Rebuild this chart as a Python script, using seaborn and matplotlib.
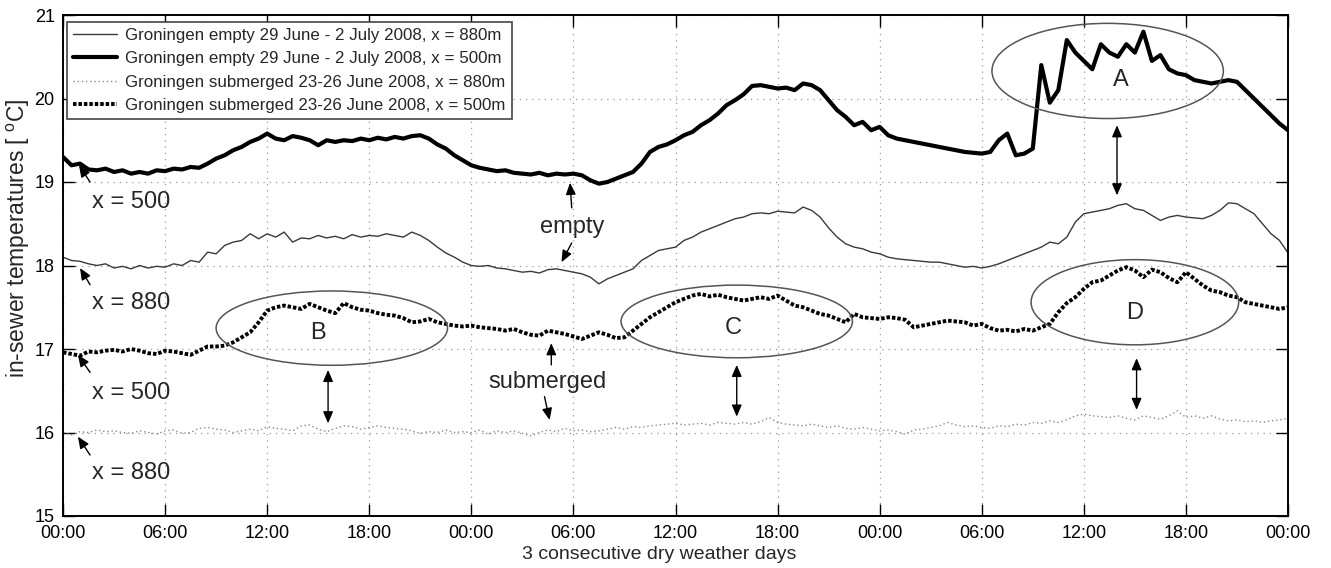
import numpy as np
import pandas as pd
import matplotlib
matplotlib.use("Agg")
import matplotlib.pyplot as plt
from matplotlib.patches import Ellipse
import seaborn as sns

# ---------------- data (hours since start, sampled every 0.5 h) ----------------
empty_500 = [
    19.30, 19.20, 19.22, 19.15, 19.14, 19.16, 19.12, 19.14, 19.10, 19.12,
    19.10, 19.14, 19.13, 19.16, 19.15, 19.18, 19.17, 19.22, 19.28, 19.32,
    19.38, 19.42, 19.48, 19.52, 19.58, 19.52, 19.50, 19.55, 19.53, 19.50,
    19.44, 19.50, 19.48, 19.50, 19.49, 19.52, 19.50, 19.53, 19.51, 19.54,
    19.52, 19.55, 19.56, 19.52, 19.45, 19.40, 19.32, 19.26, 19.20, 19.17,
    19.15, 19.13, 19.14, 19.11, 19.10, 19.09, 19.11, 19.08, 19.10, 19.09,
    19.10, 19.08, 19.02, 18.98, 19.00, 19.04, 19.08, 19.12, 19.22, 19.36,
    19.42, 19.45, 19.50, 19.56, 19.60, 19.68, 19.74, 19.82, 19.92, 19.98,
    20.05, 20.15, 20.16, 20.14, 20.12, 20.13, 20.10, 20.18, 20.16, 20.10,
    19.98, 19.86, 19.78, 19.68, 19.72, 19.62, 19.66, 19.56, 19.52, 19.50,
    19.48, 19.46, 19.44, 19.42, 19.40, 19.38, 19.36, 19.35, 19.34, 19.36,
    19.50, 19.58, 19.32, 19.34, 19.40, 20.40, 19.95, 20.10, 20.70, 20.55,
    20.45, 20.35, 20.65, 20.55, 20.50, 20.65, 20.55, 20.80, 20.45, 20.52,
    20.35, 20.30, 20.28, 20.22, 20.20, 20.18, 20.20, 20.22, 20.20, 20.10,
    20.00, 19.90, 19.80, 19.70, 19.62,
]
empty_880 = [
    18.10, 18.06, 18.05, 18.02, 18.00, 18.02, 17.97, 17.99, 17.96, 18.00,
    17.97, 17.99, 17.98, 18.02, 18.00, 18.06, 18.04, 18.16, 18.14, 18.24,
    18.28, 18.30, 18.38, 18.32, 18.38, 18.34, 18.40, 18.28, 18.33, 18.32,
    18.36, 18.33, 18.35, 18.32, 18.37, 18.34, 18.36, 18.35, 18.38, 18.36,
    18.34, 18.40, 18.36, 18.30, 18.22, 18.15, 18.10, 18.04, 18.00, 17.99,
    18.00, 17.97, 17.96, 17.94, 17.92, 17.93, 17.91, 17.95, 17.96, 17.94,
    17.92, 17.90, 17.86, 17.78, 17.84, 17.88, 17.92, 17.96, 18.06, 18.12,
    18.18, 18.20, 18.22, 18.30, 18.34, 18.40, 18.44, 18.48, 18.52, 18.56,
    18.58, 18.62, 18.63, 18.62, 18.65, 18.64, 18.63, 18.70, 18.66, 18.58,
    18.45, 18.34, 18.26, 18.22, 18.20, 18.16, 18.14, 18.10, 18.08, 18.07,
    18.06, 18.05, 18.04, 18.04, 18.02, 18.00, 17.98, 17.99, 17.97, 17.99,
    18.02, 18.06, 18.10, 18.14, 18.18, 18.22, 18.28, 18.26, 18.34, 18.52,
    18.62, 18.64, 18.66, 18.68, 18.72, 18.74, 18.68, 18.66, 18.60, 18.54,
    18.58, 18.60, 18.58, 18.57, 18.56, 18.60, 18.66, 18.75, 18.74, 18.68,
    18.62, 18.50, 18.38, 18.30, 18.15,
]
submerged_500 = [
    16.96, 16.94, 16.92, 16.97, 16.96, 16.98, 16.99, 16.97, 17.00, 16.98,
    16.95, 16.94, 16.98, 16.97, 16.95, 16.93, 16.98, 17.03, 17.03, 17.04,
    17.08, 17.14, 17.20, 17.32, 17.46, 17.50, 17.52, 17.50, 17.48, 17.54,
    17.50, 17.46, 17.43, 17.55, 17.50, 17.47, 17.46, 17.43, 17.41, 17.40,
    17.37, 17.32, 17.33, 17.36, 17.32, 17.30, 17.28, 17.27, 17.28, 17.26,
    17.25, 17.24, 17.22, 17.24, 17.20, 17.17, 17.16, 17.22, 17.20, 17.18,
    17.15, 17.12, 17.16, 17.20, 17.17, 17.13, 17.14, 17.22, 17.30, 17.38,
    17.44, 17.50, 17.56, 17.60, 17.64, 17.66, 17.63, 17.65, 17.62, 17.60,
    17.58, 17.60, 17.62, 17.60, 17.64, 17.58, 17.52, 17.50, 17.46, 17.42,
    17.40, 17.36, 17.32, 17.42, 17.38, 17.37, 17.36, 17.38, 17.37, 17.35,
    17.26, 17.28, 17.30, 17.32, 17.34, 17.33, 17.32, 17.28, 17.30, 17.25,
    17.22, 17.23, 17.21, 17.24, 17.22, 17.26, 17.30, 17.44, 17.55, 17.62,
    17.72, 17.80, 17.82, 17.88, 17.94, 17.98, 17.94, 17.86, 17.95, 17.92,
    17.85, 17.80, 17.92, 17.84, 17.76, 17.70, 17.68, 17.64, 17.62, 17.56,
    17.54, 17.52, 17.50, 17.48, 17.50,
]
submerged_880 = [
    16.00, 15.97, 16.01, 16.00, 16.03, 16.01, 16.02, 16.00, 15.99, 16.02,
    16.00, 15.98, 16.02, 16.03, 15.99, 16.00, 16.05, 16.06, 16.04, 16.03,
    16.00, 16.02, 16.04, 16.02, 16.07, 16.05, 16.04, 16.02, 16.08, 16.09,
    16.04, 16.01, 16.05, 16.08, 16.07, 16.04, 16.06, 16.08, 16.06, 16.05,
    16.04, 16.02, 15.99, 16.01, 16.00, 16.03, 16.00, 16.01, 16.00, 16.03,
    15.98, 16.02, 16.00, 16.02, 15.99, 15.96, 16.00, 16.03, 16.01, 16.05,
    16.02, 16.03, 16.01, 16.02, 16.04, 16.06, 16.04, 16.07, 16.06, 16.08,
    16.09, 16.10, 16.11, 16.09, 16.10, 16.11, 16.09, 16.12, 16.11, 16.10,
    16.12, 16.10, 16.13, 16.18, 16.12, 16.10, 16.09, 16.08, 16.10, 16.08,
    16.06, 16.08, 16.05, 16.04, 16.06, 16.04, 16.02, 16.03, 16.01, 15.98,
    16.03, 16.04, 16.06, 16.08, 16.12, 16.09, 16.07, 16.08, 16.06, 16.05,
    16.08, 16.07, 16.10, 16.09, 16.12, 16.11, 16.14, 16.12, 16.15, 16.20,
    16.22, 16.20, 16.19, 16.18, 16.20, 16.17, 16.15, 16.20, 16.18, 16.16,
    16.20, 16.26, 16.18, 16.20, 16.17, 16.20, 16.16, 16.14, 16.15, 16.13,
    16.14, 16.12, 16.14, 16.15, 16.17,
]
series_labels = [
    "Groningen empty 29 June - 2 July 2008, x = 880m",
    "Groningen empty 29 June - 2 July 2008, x = 500m",
    "Groningen submerged 23-26 June 2008, x = 880m",
    "Groningen submerged 23-26 June 2008, x = 500m",
]
tick_hours = [0, 6, 12, 18, 24, 30, 36, 42, 48, 54, 60, 66, 72]
tick_labels = ["00:00", "06:00", "12:00", "18:00", "00:00", "06:00", "12:00",
               "18:00", "00:00", "06:00", "12:00", "18:00", "00:00"]
y_ticks = [15, 16, 17, 18, 19, 20, 21]

# ---------------- style ----------------
sns.set_style("ticks")
plt.rcParams["font.family"] = ["Liberation Sans", "DejaVu Sans"]
plt.rcParams["mathtext.fontset"] = "custom"
plt.rcParams["mathtext.rm"] = "Liberation Sans"
plt.rcParams["mathtext.it"] = "Liberation Sans"

fig = plt.figure(figsize=(13.31, 5.68), dpi=100)
ax = fig.add_axes([63 / 1331, 1 - 516 / 568, (1288 - 63) / 1331, (516 - 15) / 568])

def hours(v):
    return np.arange(len(v)) * 0.5

styles = [
    (empty_880, dict(color="#3a3a3a", lw=1.0, linestyle="-")),
    (empty_500, dict(color="black", lw=3.0, linestyle="-")),
    (submerged_880, dict(color="#8a8a8a", lw=1.0, linestyle=(0, (1, 2)))),
    (submerged_500, dict(color="black", lw=2.8, linestyle=(0, (0.9, 0.5)))),
]
for (vals, st), lab in zip(styles, series_labels):
    sns.lineplot(x=hours(vals), y=vals, ax=ax, label=lab, **st)

ax.set_xlim(0, 72)
ax.set_ylim(15, 21)
ax.set_xticks(tick_hours)
ax.set_xticklabels(tick_labels)
ax.set_yticks(y_ticks)
ax.tick_params(direction="in", length=8.5, width=1, top=True, right=True,
               labelsize=13, colors="black")
ax.tick_params(axis="x", pad=6.5)
ax.tick_params(axis="y", pad=6)
ax.grid(True, linestyle=(0, (1, 4)), color="#999999", lw=0.9)
for sp in ax.spines.values():
    sp.set_linewidth(1.4)
    sp.set_color("black")
    sp.set_visible(True)

ax.set_xlabel("3 consecutive dry weather days", fontsize=14)
ax.xaxis.set_label_coords(0.4865, -0.060)
ax.set_ylabel(r"in-sewer temperatures [ $^{\rm o}$C]", fontsize=16.5)
ax.yaxis.set_label_coords(-0.0253, 0.555)

leg = ax.legend(loc="upper left", bbox_to_anchor=(4 / 1225, 1 - 7 / 501),
                fontsize=12.2, frameon=True, fancybox=False,
                edgecolor="#444444", framealpha=1, handlelength=2.6,
                borderpad=0.35, labelspacing=0.5, borderaxespad=0,
                handletextpad=0.5)
leg.get_frame().set_linewidth(1.2)

# ---------------- annotations ----------------
arr = dict(arrowstyle="-|>,head_length=0.7,head_width=0.3", color="black", lw=1.0,
           shrinkA=0, shrinkB=0)
dbl = dict(arrowstyle="<|-|>,head_length=0.7,head_width=0.3", color="black", lw=1.0,
           shrinkA=0, shrinkB=0)

side_labels = [
    ("x = 500", (4.0, 18.76), (0.94, 19.20), (1.59, 19.00)),
    ("x = 880", (4.0, 17.55), (1.0, 17.97), (1.59, 17.77)),
    ("x = 500", (4.0, 16.47), (0.88, 16.93), (1.59, 16.72)),
    ("x = 880", (4.0, 15.51), (0.88, 15.95), (1.59, 15.73)),
]
for txt, tpos, tip, tail in side_labels:
    ax.text(*tpos, txt, fontsize=17, ha="center", va="center")
    ax.annotate("", xy=tip, xytext=tail, arrowprops=arr)

ax.text(29.9, 18.46, "empty", fontsize=17, ha="center", va="center")
ax.annotate("", xy=(29.8, 18.99), xytext=(29.9, 18.69), arrowprops=arr)
ax.annotate("", xy=(29.3, 18.04), xytext=(29.9, 18.27), arrowprops=arr)

ax.text(28.5, 16.60, "submerged", fontsize=17, ha="center", va="center")
ax.annotate("", xy=(28.7, 17.07), xytext=(28.7, 16.81), arrowprops=arr)
ax.annotate("", xy=(28.6, 16.15), xytext=(28.3, 16.43), arrowprops=arr)

ellipses = [
    ("A", (61.4, 20.33), 13.6, 1.14, (62.2, 20.22)),
    ("B", (15.8, 17.25), 13.6, 0.89, (15.0, 17.19)),
    ("C", (39.6, 17.33), 13.6, 0.87, (39.4, 17.25)),
    ("D", (63.0, 17.56), 12.2, 1.02, (63.0, 17.43)),
]
for lab, c, w, h, tp in ellipses:
    ax.add_patch(Ellipse(c, w, h, facecolor="none", edgecolor="#555555", lw=1.1, zorder=5))
    ax.text(*tp, lab, fontsize=17, ha="center", va="center")

double_arrows = [
    (61.95, 19.68, 18.84),
    (15.58, 16.75, 16.11),
    (39.6, 16.81, 16.19),
    (63.1, 16.89, 16.27),
]
for hx, top, bot in double_arrows:
    ax.annotate("", xy=(hx, top), xytext=(hx, bot), arrowprops=dbl)

fig.savefig("out.png", dpi=100)
